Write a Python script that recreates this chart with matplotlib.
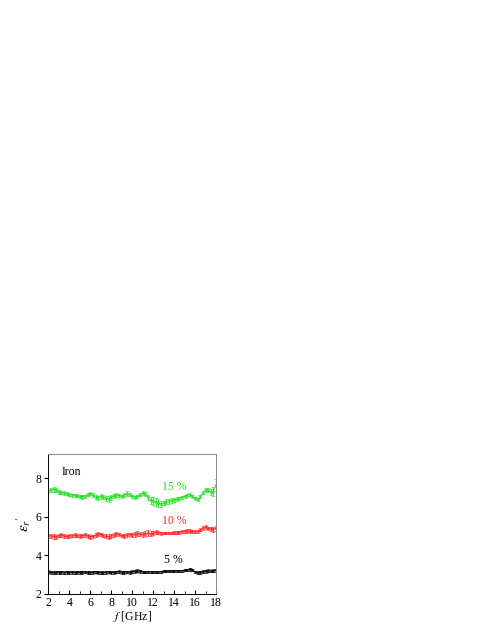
import numpy as np
import matplotlib.pyplot as plt

plt.rcParams['font.family'] = ['Liberation Serif', 'DejaVu Serif']
plt.rcParams['mathtext.fontset'] = 'stix'

freq = np.arange(2.0, 18.01, 0.25)

# 15 % iron
eps_15 = [7.35, 7.38, 7.42, 7.38, 7.28, 7.25, 7.22, 7.20, 7.15, 7.12, 7.10, 7.08, 7.05,
          7.02, 7.05, 7.15, 7.20, 7.12, 7.02, 6.98, 7.05, 7.00, 6.95, 6.92, 7.00, 7.08,
          7.12, 7.10, 7.05, 7.12, 7.20, 7.15, 7.05, 7.00, 7.05, 7.15, 7.22, 7.18, 7.00,
          6.85, 6.80, 6.75, 6.72, 6.65, 6.72, 6.78, 6.80, 6.85, 6.88, 6.90, 6.95, 7.00,
          7.05, 7.12, 7.15, 7.05, 6.95, 6.90, 7.05, 7.25, 7.40, 7.38, 7.28, 7.30, 7.65]
err_15 = [0.10, 0.10, 0.12, 0.10, 0.09, 0.09, 0.10, 0.09, 0.09, 0.08, 0.08, 0.08, 0.08,
          0.08, 0.09, 0.10, 0.10, 0.09, 0.09, 0.10, 0.12, 0.10, 0.12, 0.14, 0.12, 0.10,
          0.10, 0.09, 0.09, 0.10, 0.12, 0.10, 0.09, 0.08, 0.09, 0.10, 0.12, 0.12, 0.14,
          0.17, 0.20, 0.22, 0.20, 0.14, 0.12, 0.12, 0.12, 0.12, 0.10, 0.10, 0.09, 0.08,
          0.08, 0.08, 0.08, 0.08, 0.07, 0.07, 0.07, 0.08, 0.10, 0.10, 0.17, 0.22, 0.30]

# 10 % iron
eps_10 = [5.00, 5.02, 4.98, 4.97, 5.02, 5.05, 5.00, 4.98, 5.00, 5.02, 5.05, 5.02, 5.00,
          5.02, 5.05, 5.00, 4.97, 4.98, 5.05, 5.10, 5.08, 5.02, 4.98, 4.97, 5.02, 5.05,
          5.10, 5.08, 5.02, 5.00, 5.05, 5.08, 5.05, 5.08, 5.12, 5.10, 5.08, 5.12, 5.15,
          5.12, 5.15, 5.20, 5.18, 5.15, 5.15, 5.16, 5.15, 5.16, 5.17, 5.18, 5.20, 5.22,
          5.25, 5.27, 5.25, 5.24, 5.22, 5.25, 5.32, 5.42, 5.45, 5.40, 5.36, 5.35, 5.40]
err_10 = [0.10, 0.10, 0.12, 0.10, 0.09, 0.10, 0.10, 0.09, 0.09, 0.09, 0.10, 0.09, 0.09,
          0.09, 0.09, 0.10, 0.10, 0.09, 0.10, 0.12, 0.10, 0.09, 0.10, 0.12, 0.10, 0.09,
          0.09, 0.08, 0.08, 0.08, 0.09, 0.09, 0.10, 0.12, 0.12, 0.10, 0.12, 0.14, 0.16,
          0.14, 0.12, 0.12, 0.10, 0.08, 0.07, 0.07, 0.07, 0.07, 0.07, 0.07, 0.07, 0.08,
          0.08, 0.10, 0.10, 0.08, 0.07, 0.07, 0.08, 0.10, 0.10, 0.08, 0.10, 0.12, 0.14]

# 5 % iron
eps_5 = [3.15, 3.12, 3.10, 3.12, 3.13, 3.12, 3.11, 3.12, 3.13, 3.12, 3.11, 3.12, 3.12,
         3.13, 3.14, 3.12, 3.11, 3.12, 3.14, 3.12, 3.10, 3.11, 3.13, 3.14, 3.13, 3.12,
         3.14, 3.15, 3.13, 3.12, 3.14, 3.13, 3.15, 3.18, 3.20, 3.17, 3.14, 3.13, 3.14,
         3.15, 3.15, 3.14, 3.15, 3.16, 3.17, 3.18, 3.18, 3.19, 3.19, 3.20, 3.20, 3.21,
         3.22, 3.24, 3.27, 3.25, 3.15, 3.10, 3.12, 3.15, 3.18, 3.20, 3.19, 3.20, 3.22]
err_5 = [0.08, 0.08, 0.08, 0.07, 0.07, 0.07, 0.07, 0.07, 0.07, 0.07, 0.07, 0.07, 0.07,
         0.07, 0.07, 0.07, 0.07, 0.07, 0.07, 0.08, 0.08, 0.07, 0.07, 0.07, 0.07, 0.07,
         0.07, 0.07, 0.07, 0.07, 0.07, 0.07, 0.07, 0.08, 0.08, 0.07, 0.06, 0.06, 0.06,
         0.06, 0.06, 0.06, 0.05, 0.05, 0.05, 0.05, 0.05, 0.05, 0.05, 0.05, 0.05, 0.05,
         0.05, 0.06, 0.07, 0.06, 0.06, 0.07, 0.07, 0.07, 0.07, 0.07, 0.07, 0.07, 0.08]

green = '#22e022'
red = '#ff2424'

fig = plt.figure(figsize=(4.91, 6.35), dpi=100)
ax = fig.add_axes([0.0985, 0.0646, 0.3415, 0.2205])

for y, e, c in [(eps_15, err_15, green), (eps_10, err_10, red), (eps_5, err_5, 'black')]:
    ax.errorbar(freq, y, yerr=e, color=c, marker='s', markersize=1.4, markerfacecolor='none',
                markeredgewidth=0.4, linewidth=0.6, elinewidth=0.6, capsize=1.2, capthick=0.5)

ax.text(3.25, 8.3, 'Iron', fontsize=8.5, va='center', ha='left')
ax.text(14.05, 7.56, '15 %', fontsize=8.5, color=green, va='center', ha='center')
ax.text(14.05, 5.76, '10 %', fontsize=8.5, color=red, va='center', ha='center')
ax.text(13.95, 3.77, '5 %', fontsize=8.5, color='black', va='center', ha='center')

ax.set_xlim(2, 18)
ax.set_ylim(2, 9.25)
ax.set_xticks(range(2, 19, 2))
ax.set_xticks(range(3, 18, 2), minor=True)
ax.set_yticks([2, 4, 6, 8])
ax.tick_params(axis='x', which='both', direction='in', labelsize=8.5, pad=2)
ax.tick_params(axis='x', which='major', length=3)
ax.tick_params(axis='x', which='minor', length=2)
ax.tick_params(axis='y', direction='out', labelsize=8.5, length=3, pad=2)
for s in ax.spines.values():
    s.set_linewidth(0.7)
ax.spines['right'].set_color('#888888')
ax.spines['top'].set_color('#888888')

ax.set_xlabel(r'$f$ [GHz]', fontsize=8.5, labelpad=0)
ax.set_ylabel(r"$\varepsilon_r{}'$", fontsize=11, labelpad=2)

fig.savefig('out.png', dpi=100)
